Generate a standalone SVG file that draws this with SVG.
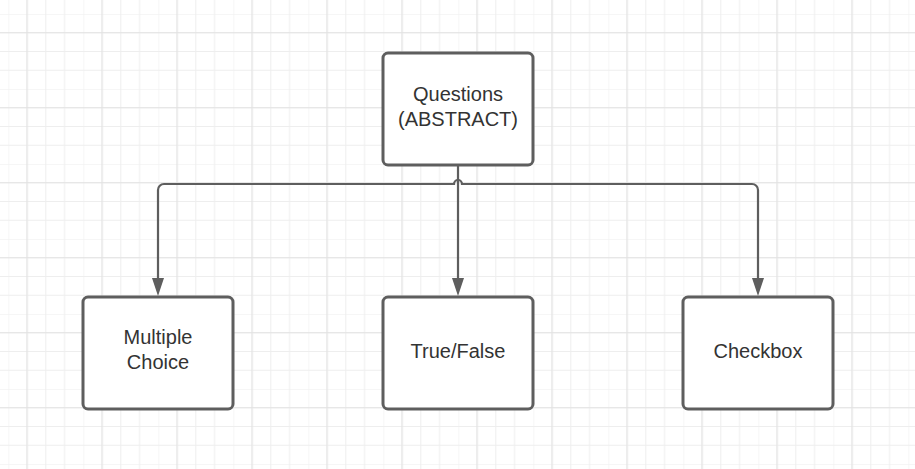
<svg xmlns="http://www.w3.org/2000/svg" width="915" height="469" viewBox="0 0 915 469">
<defs>
<pattern id="g" x="8.3" y="14" width="75" height="75" patternUnits="userSpaceOnUse">
<path d="M0 0V75M18.75 0V75M37.5 0V75M56.25 0V75M0 0H75M0 18.75H75M0 37.5H75M0 56.25H75" stroke="#eeeeee" stroke-width="1" fill="none"/>
<path d="M18.75 0V75M0 18.75H75" stroke="#e3e3e3" stroke-width="1.2" fill="none"/>
</pattern>
</defs>
<style>
.box{fill:#fff;stroke:#5e5e5e;stroke-width:3}
.t{font-family:"Liberation Sans",Arial,sans-serif;font-size:20px;fill:#333;text-anchor:middle}
.c{fill:none;stroke:#5e5e5e;stroke-width:2.2}
.ah{fill:#5e5e5e}
</style>
<rect width="915" height="469" fill="#fff"/>
<rect width="915" height="469" fill="url(#g)"/>
<g id="connectors">
<path class="c" d="M458 166V279"/>
<path class="c" d="M158 279V190a6 6 0 0 1 6 -6H454a4 4 0 0 1 8 0H752a6 6 0 0 1 6 6V279"/>
<path class="ah" d="M152 278L164 278L158 296Z"/>
<path class="ah" d="M452 278L464 278L458 296Z"/>
<path class="ah" d="M752 278L764 278L758 296Z"/>
</g>
<g id="questions">
<rect class="box" x="383" y="53" width="150" height="112" rx="5"/>
<text class="t" x="458" y="101">Questions</text>
<text class="t" x="458" y="126">(ABSTRACT)</text>
</g>
<g id="multiple-choice">
<rect class="box" x="83" y="297" width="150" height="112" rx="5"/>
<text class="t" x="158" y="344">Multiple</text>
<text class="t" x="158" y="369">Choice</text>
</g>
<g id="true-false">
<rect class="box" x="383" y="297" width="150" height="112" rx="5"/>
<text class="t" x="458" y="358">True/False</text>
</g>
<g id="checkbox">
<rect class="box" x="683" y="297" width="150" height="112" rx="5"/>
<text class="t" x="758" y="358">Checkbox</text>
</g>
</svg>
